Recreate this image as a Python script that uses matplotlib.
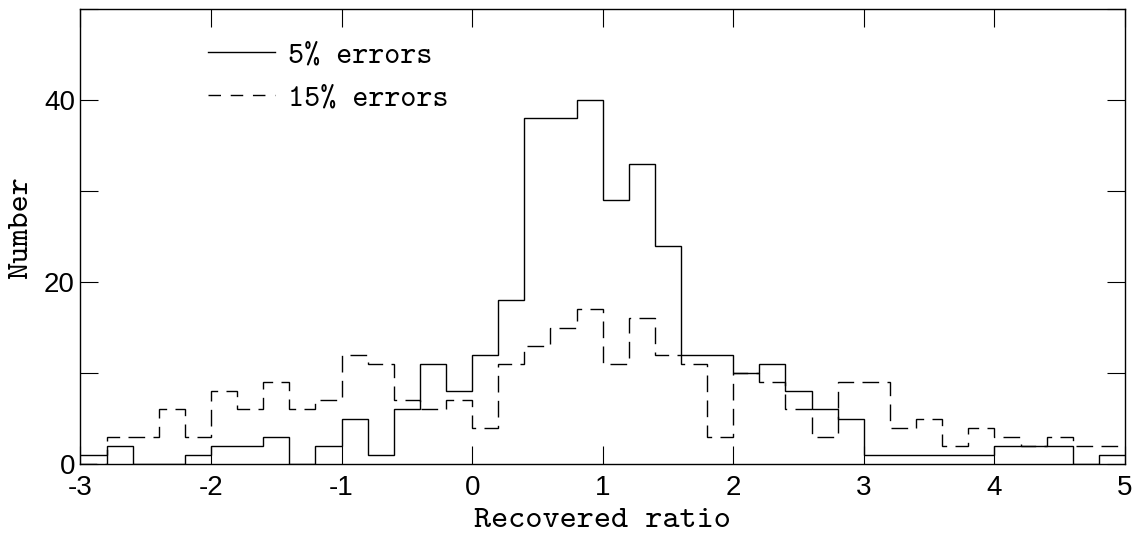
import numpy as np
import matplotlib
matplotlib.use('Agg')
import matplotlib.pyplot as plt
from matplotlib.lines import Line2D

# Границы бинов (шаг 0.2) и количества в бинах
bin_edges = np.round(np.arange(-3.0, 5.0001, 0.2), 1)
counts_5 = [1, 2, 0, 0, 1, 2, 2, 3, 0, 2,
            5, 1, 6, 11, 8, 12, 18, 38, 38, 40,
            29, 33, 24, 12, 12, 10, 11, 8, 6, 5,
            1, 1, 1, 1, 1, 2, 2, 2, 0, 1]
counts_15 = [0, 3, 3, 6, 3, 8, 6, 9, 6, 7,
             12, 11, 7, 6, 7, 4, 11, 13, 15, 17,
             11, 16, 12, 11, 3, 10, 9, 6, 3, 9,
             9, 4, 5, 2, 4, 3, 2, 3, 2, 2]
x_ticks = [-3, -2, -1, 0, 1, 2, 3, 4, 5]
y_ticks = [0, 10, 20, 30, 40, 50]
y_labels = ['0', '', '20', '', '40', '']

serif = 'cmtt10'
sans = 'Liberation Sans'

fig = plt.figure(figsize=(11.4, 5.4), dpi=100)
ax = fig.add_axes([0.0706, 0.1407, 0.9162, 0.8423])

ax.stairs(counts_5, bin_edges, baseline=None, color='black', linewidth=1.0)
ax.stairs(counts_15, bin_edges, baseline=None, color='black', linewidth=1.0,
          linestyle=(0, (12, 6)))

ax.set_xlim(-3, 5)
ax.set_ylim(0, 50)
ax.set_xticks(x_ticks)
ax.set_xticklabels([str(t) for t in x_ticks], fontsize=20, fontfamily=sans)
ax.set_yticks(y_ticks)
ax.set_yticklabels(y_labels, fontsize=20, fontfamily=sans)
ax.tick_params(direction='in', length=13, width=0.8, top=True, right=True)
ax.tick_params(axis='x', pad=8)
ax.tick_params(axis='y', pad=4)
for s in ax.spines.values():
    s.set_linewidth(1.0)

ax.set_xlabel('Recovered ratio', fontsize=23.5, fontfamily=serif, labelpad=5)
ax.set_ylabel('Number', fontsize=23.5, fontfamily=serif)
ax.yaxis.set_label_coords(-0.0445, 0.52)

# Легенда: короткие штрихи, как в оригинале
handles = [Line2D([], [], color='black', linewidth=1.0),
           Line2D([], [], color='black', linewidth=1.0, linestyle=(0, (9, 7)))]
ax.legend(handles, ['5% errors', '15% errors'], loc='upper left',
          bbox_to_anchor=(0.096, 0.99), frameon=False,
          handlelength=2.2, handletextpad=0.42, labelspacing=0.48,
          prop={'family': serif, 'size': 22})

fig.savefig('out.png', dpi=100)
